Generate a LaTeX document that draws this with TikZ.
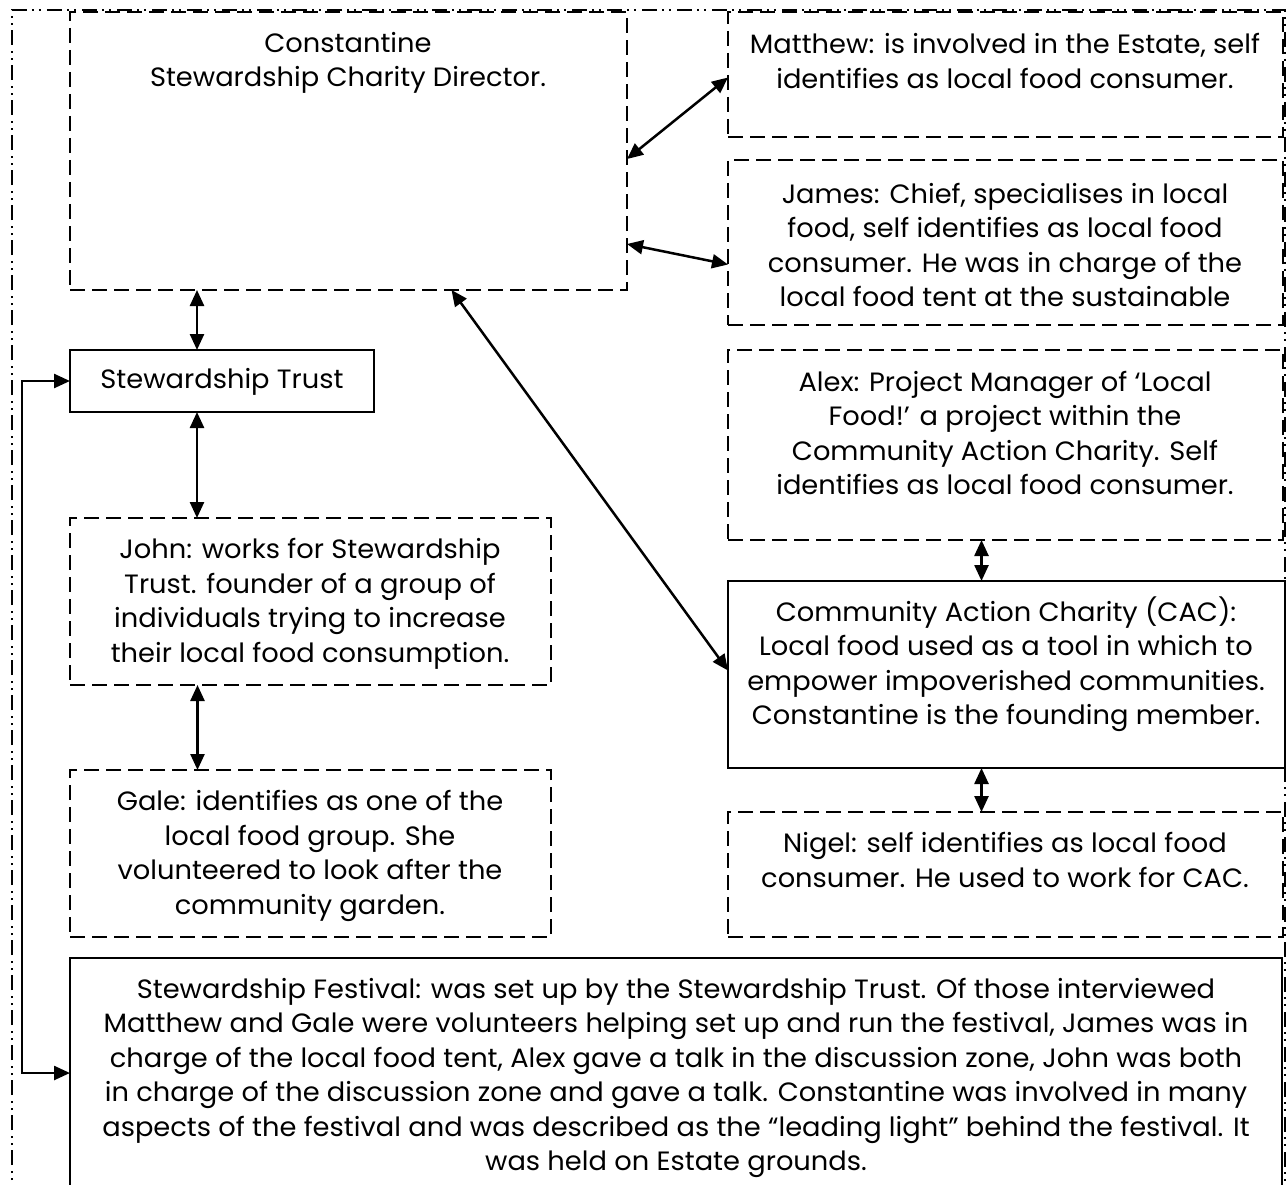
\documentclass[tikz,border=0pt]{standalone}
\usepackage{fontspec}
\setmainfont{Poppins}[FakeStretch=1.03]
\usetikzlibrary{arrows.meta,calc}
\begin{document}
\begin{tikzpicture}[x=1pt,y=-1pt,
  box/.style={draw,line width=2pt,inner sep=0pt,outer sep=0pt},
  dbox/.style={box,dash pattern=on 15pt off 7pt},
  sbox/.style={box},
  txt/.style={align=center,inner sep=0pt,font=\fontsize{26.5}{34.5}\selectfont},
  link/.style={line width=2.5pt,{Triangle[length=16pt,width=14pt]}-{Triangle[length=16pt,width=14pt]}},
  frame/.style={line width=1.5pt,dash pattern=on 15pt off 5pt on 2pt off 5pt on 2pt off 6pt}
]
\useasboundingbox (0,0) rectangle (1287,1185);
\clip (0,0) rectangle (1287,1185);
\draw[frame] (12,1200) -- (12,10) -- (1285,10) -- (1285,1200);
% boxes
\node[dbox,minimum width=557pt,minimum height=278pt] (const) at (348.5,151) {};
\node[dbox,minimum width=555pt,minimum height=125pt] (matt) at (1005.5,74.5) {};
\node[dbox,minimum width=555pt,minimum height=165pt] (james) at (1005.5,242.5) {};
\node[dbox,minimum width=555pt,minimum height=190pt] (alex) at (1005.5,445) {};
\node[sbox,minimum width=557pt,minimum height=187pt] (cac) at (1006.5,674.5) {};
\node[dbox,minimum width=555pt,minimum height=125pt] (nigel) at (1005.5,874.5) {};
\node[sbox,minimum width=304pt,minimum height=62pt] (trust) at (222,381) {};
\node[dbox,minimum width=481pt,minimum height=167pt] (john) at (310.5,601.5) {};
\node[dbox,minimum width=481pt,minimum height=167pt] (gale) at (310.5,853.5) {};
\node[sbox,minimum width=1212pt,minimum height=242pt] (fest) at (676,1079) {};
% texts
\node[txt] (constT) at (348,63) {Constantine\\Stewardship Charity Director.};
\node[txt] (mattT) at (1005,61) {Matthew: is involved in the Estate, self\\identifies as local food consumer.};
\node[txt] (jamesT) at (1005,245) {James: Chief, specialises in local\\food, self identifies as local food\\consumer. He was in charge of the\\local food tent at the sustainable};
\node[txt] (alexT) at (1005,433) {Alex: Project Manager of ‘Local\\Food!’ a project within the\\Community Action Charity. Self\\identifies as local food consumer.};
\node[txt] (cacT) at (1006,664) {Community Action Charity (CAC):\\Local food used as a tool in which to\\empower impoverished communities.\\Constantine is the founding member.};
\node[txt] (nigelT) at (1005,860) {Nigel: self identifies as local food\\consumer. He used to work for CAC.};
\node[txt] (trustT) at (222,382) {Stewardship Trust};
\node[txt] (johnT) at (310,604) {John: works for Stewardship\\Trust. founder of a group of\\individuals trying to increase\\their local food consumption.};
\node[txt] (galeT) at (310,856) {Gale: identifies as one of the\\local food group. She\\volunteered to look after the\\community garden.};
\node[txt] (festT) at (676,1078) {Stewardship Festival: was set up by the Stewardship Trust. Of those interviewed\\Matthew and Gale were volunteers helping set up and run the festival, James was in\\charge of the local food tent, Alex gave a talk in the discussion zone, John was both\\in charge of the discussion zone and gave a talk. Constantine was involved in many\\aspects of the festival and was described as the “leading light” behind the festival. It\\was held on Estate grounds.};
% connectors
\draw[link] ([yshift=-8pt]const.east) -- ([yshift=-3pt]matt.west);
\draw[link] ([yshift=-93pt]const.east) -- ([yshift=-22pt]james.west);
\draw[link] (const.south -| trust.north) ++(-25,0) coordinate (a1) -- (a1 |- trust.north);
\draw[link] ([xshift=-25pt]trust.south) -- ([xshift=-25pt]trust.south |- john.north);
\draw[link] ([xshift=-113pt]john.south) -- ([xshift=-113pt]john.south |- gale.north);
\draw[link] ([xshift=103pt]const.south) -- ([yshift=4pt]cac.west);
\draw[link] ([xshift=-24pt]alex.south) -- ([xshift=-24pt]alex.south |- cac.north);
\draw[link] ([xshift=-25pt]cac.south) -- ([xshift=-25pt]cac.south |- nigel.north);
\coordinate (lft) at (22,0);
\draw[link] ([yshift=6pt]fest.west) -| (lft |- trust.west) -- (trust.west);
\end{tikzpicture}
\end{document}
